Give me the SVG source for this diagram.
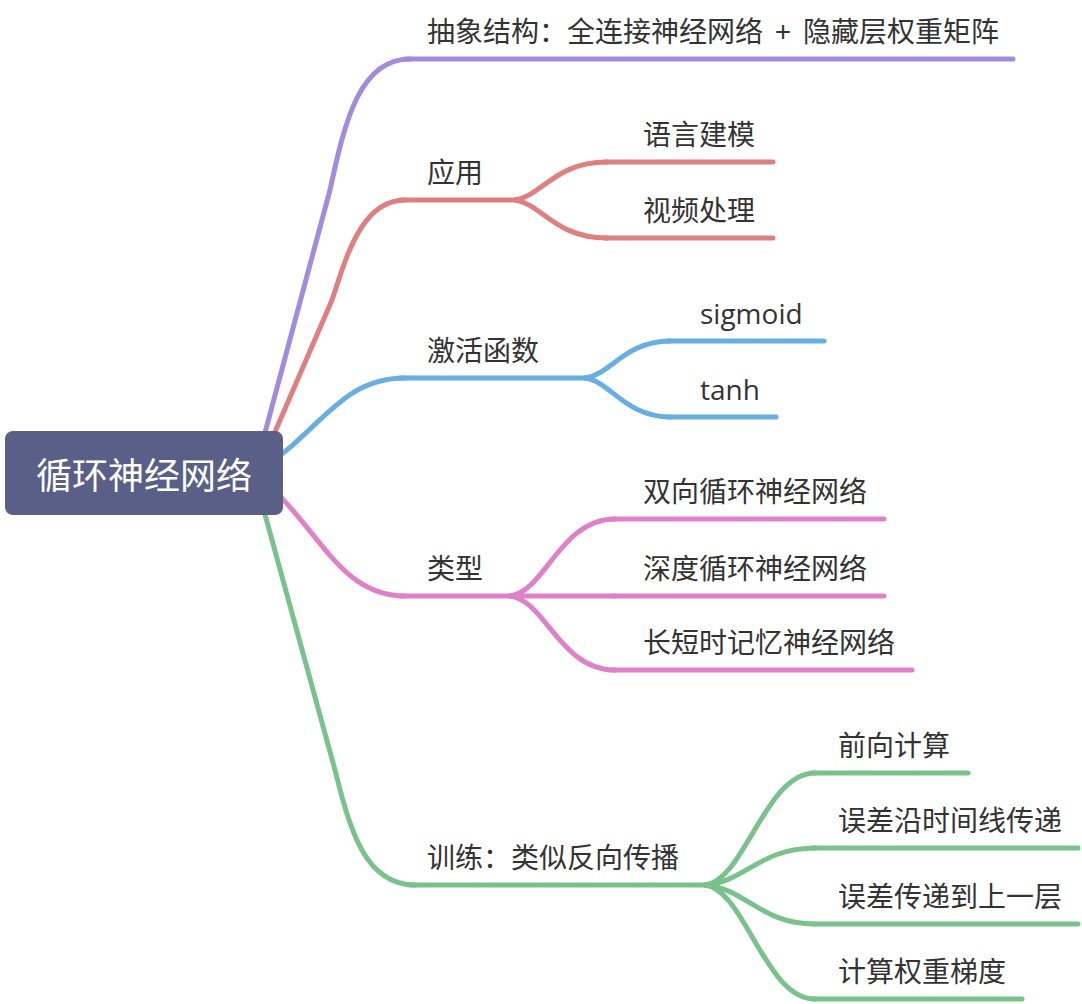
<svg xmlns="http://www.w3.org/2000/svg" width="1082" height="1004" viewBox="0 0 1082 1004">
<style>
  .t{font-family:"Noto Sans CJK SC","Noto Sans",sans-serif;font-size:28px;fill:#333333}
  .lt{font-family:"Open Sans","Noto Sans CJK SC",sans-serif;font-size:28px;fill:#333333}
  .c{fill:none;stroke-width:5;stroke-linecap:round;stroke-linejoin:round}
  .p{stroke:#a18bdd}.r{stroke:#e07f80}.b{stroke:#67aee2}.k{stroke:#de81c9}.g{stroke:#79c28b}
  .root-text{font-family:"Noto Sans CJK SC","Noto Sans",sans-serif;font-size:36px;fill:#ffffff}
</style>
<rect width="1082" height="1004" fill="#ffffff"/>
<g id="connectors">
  <path class="c p" d="M 255 470 L 330 190 C 345 120 360 59 410 59"/>
  <path class="c r" d="M 262 462 L 332 300 C 345 262 360 200 405 200"/>
  <path class="c b" d="M 262 468 C 320 432 340 378 405 378"/>
  <path class="c k" d="M 262 478 C 320 530 340 596 405 596"/>
  <path class="c g" d="M 255 478 L 335 770 C 350 830 365 885 415 885"/>
  <path class="c r" d="M 515 200 C 542 196 555 162 607 162"/>
  <path class="c r" d="M 515 200 C 542 204 555 238 607 238"/>
  <path class="c b" d="M 585 378 C 610 375 625 341 670 341"/>
  <path class="c b" d="M 585 378 C 610 381 625 417 670 417"/>
  <path class="c k" d="M 510 596 C 545 592 560 519 615 519"/>
  <path class="c k" d="M 510 596 L 615 596"/>
  <path class="c k" d="M 510 596 C 545 600 560 670 615 670"/>
  <path class="c g" d="M 705 885 C 745 880 765 773 815 773"/>
  <path class="c g" d="M 705 885 C 745 882 760 848 815 848"/>
  <path class="c g" d="M 705 885 C 745 888 760 924 815 924"/>
  <path class="c g" d="M 705 885 C 745 890 765 999 815 999"/>
</g>
<g id="n-abstract"><line class="c p" x1="405" y1="59" x2="1013" y2="59"/><text class="t" x="427" y="42" style="word-spacing:6px">抽象结构：全连接神经网络 + 隐藏层权重矩阵</text></g>
<g id="n-app"><line class="c r" x1="400" y1="200" x2="515" y2="200"/><text class="t" x="427" y="183">应用</text></g>
<g id="n-lang"><line class="c r" x1="605" y1="162" x2="773" y2="162"/><text class="t" x="643" y="145">语言建模</text></g>
<g id="n-video"><line class="c r" x1="605" y1="238" x2="773" y2="238"/><text class="t" x="643" y="221">视频处理</text></g>
<g id="n-act"><line class="c b" x1="400" y1="378" x2="585" y2="378"/><text class="t" x="427" y="361">激活函数</text></g>
<g id="n-sigmoid"><line class="c b" x1="668" y1="341" x2="824" y2="341"/><text class="lt" x="700" y="324">sigmoid</text></g>
<g id="n-tanh"><line class="c b" x1="668" y1="417" x2="776" y2="417"/><text class="lt" x="700" y="400">tanh</text></g>
<g id="n-type"><line class="c k" x1="400" y1="596" x2="510" y2="596"/><text class="t" x="427" y="579">类型</text></g>
<g id="n-bi"><line class="c k" x1="613" y1="519" x2="884" y2="519"/><text class="t" x="643" y="502">双向循环神经网络</text></g>
<g id="n-deep"><line class="c k" x1="613" y1="596" x2="884" y2="596"/><text class="t" x="643" y="579">深度循环神经网络</text></g>
<g id="n-lstm"><line class="c k" x1="613" y1="670" x2="912" y2="670"/><text class="t" x="643" y="653">长短时记忆神经网络</text></g>
<g id="n-train"><line class="c g" x1="410" y1="885" x2="705" y2="885"/><text class="t" x="427" y="868">训练：类似反向传播</text></g>
<g id="n-fwd"><line class="c g" x1="813" y1="773" x2="968" y2="773"/><text class="t" x="838" y="756">前向计算</text></g>
<g id="n-err-time"><line class="c g" x1="813" y1="848" x2="1078" y2="848"/><text class="t" x="838" y="831">误差沿时间线传递</text></g>
<g id="n-err-layer"><line class="c g" x1="813" y1="924" x2="1078" y2="924"/><text class="t" x="838" y="907">误差传递到上一层</text></g>
<g id="n-grad"><line class="c g" x1="813" y1="999" x2="1022" y2="999"/><text class="t" x="838" y="982">计算权重梯度</text></g>
<g id="n-root"><rect x="5" y="431" width="278" height="84" rx="8" fill="#595f86"/><text class="root-text" x="144" y="489" text-anchor="middle">循环神经网络</text></g>
</svg>
